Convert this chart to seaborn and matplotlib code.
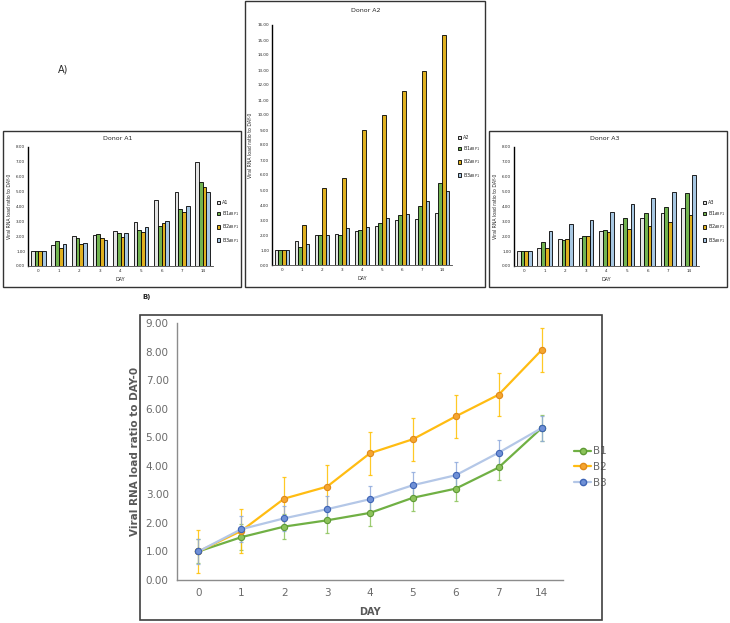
import numpy as np
import pandas as pd
import matplotlib
matplotlib.use('Agg')
import matplotlib.pyplot as plt
import seaborn as sns
from matplotlib.patches import Rectangle
from matplotlib.lines import Line2D

days = ['0', '1', '2', '3', '4', '5', '6', '7', '14']

# Donor A1 (bars)
a1_a = [1.0, 1.40, 2.00, 2.07, 2.37, 2.93, 4.42, 4.98, 6.97]
a1_b1 = [1.0, 1.65, 1.85, 2.13, 2.24, 2.45, 2.71, 3.86, 5.63]
a1_b2 = [1.0, 1.22, 1.50, 1.87, 1.96, 2.28, 2.91, 3.63, 5.34]
a1_b3 = [1.0, 1.50, 1.52, 1.74, 2.20, 2.61, 3.05, 4.04, 4.96]
# Donor A2
a2_a = [1.0, 1.62, 1.98, 2.04, 2.29, 2.58, 2.98, 3.09, 3.44]
a2_b1 = [1.0, 1.22, 1.98, 2.02, 2.31, 2.78, 3.31, 3.93, 5.47]
a2_b2 = [1.0, 2.64, 5.16, 5.82, 9.00, 10.00, 11.60, 12.95, 15.35]
a2_b3 = [1.0, 1.38, 1.98, 2.44, 2.53, 3.11, 3.40, 4.27, 4.93]
# Donor A3
a3_a = [1.0, 1.23, 1.80, 1.89, 2.34, 2.83, 3.24, 3.56, 3.93]
a3_b1 = [1.0, 1.61, 1.72, 2.05, 2.42, 3.22, 3.53, 3.98, 4.92]
a3_b2 = [1.0, 1.24, 1.82, 2.01, 2.28, 2.47, 2.72, 2.97, 3.44]
a3_b3 = [1.0, 2.37, 2.84, 3.12, 3.65, 4.14, 4.54, 4.98, 6.15]

# Panel B: mean ratio and error bars
b1_mean = [1.00, 1.50, 1.87, 2.09, 2.35, 2.88, 3.20, 3.94, 5.32]
b1_err = [0.42, 0.45, 0.44, 0.45, 0.45, 0.45, 0.43, 0.43, 0.45]
b2_mean = [1.00, 1.72, 2.85, 3.27, 4.44, 4.93, 5.73, 6.49, 8.05]
b2_err = [0.75, 0.77, 0.77, 0.75, 0.76, 0.76, 0.76, 0.76, 0.76]
b3_mean = [1.00, 1.78, 2.16, 2.48, 2.83, 3.32, 3.67, 4.46, 5.32]
b3_err = [0.45, 0.45, 0.43, 0.45, 0.45, 0.45, 0.45, 0.45, 0.44]

sub = '$_{\\mathrm{ABP1}}$'
bar_colors = ['#E4E4E4', '#6DC43F', '#FFC000', '#9DC8EC']

sns.set_style('white')
plt.rcParams['font.family'] = ['DejaVu Sans']

W, H = 730, 623
fig = plt.figure(figsize=(W / 100, H / 100), dpi=100)


def px_axes(l, t, r, b):
    return fig.add_axes([l / W, 1 - b / H, (r - l) / W, (b - t) / H])


def px_box(l, t, r, b, color='#333333', lw=1.0):
    fig.add_artist(Rectangle((l / W, 1 - b / H), (r - l) / W, (b - t) / H,
                             transform=fig.transFigure, fill=False,
                             edgecolor=color, linewidth=lw))


def bar_panel(rect, donor, series, ymax, step, leg_xy):
    ax = px_axes(*rect)
    labels = [donor] + ['B%d' % i + sub for i in (1, 2, 3)]
    df = pd.DataFrame({
        'day': days * 4,
        'ratio': [v for s in series for v in s],
        'group': np.repeat(labels, len(days)),
    })
    sns.barplot(data=df, x='day', y='ratio', hue='group', order=days,
                hue_order=labels, palette=bar_colors, edgecolor='black',
                linewidth=0.6, width=0.72, ax=ax)
    ax.set_ylim(0, ymax)
    ax.set_xlim(-0.5, len(days) - 0.5)
    ticks = np.arange(0, ymax + 0.01, step)
    ax.set_yticks(ticks)
    ax.set_yticklabels(['%.2f' % v for v in ticks])
    ax.tick_params(labelsize=3, length=0, pad=2)
    for s in ['top', 'right']:
        ax.spines[s].set_visible(False)
    ax.spines['left'].set_color('black')
    ax.spines['left'].set_linewidth(1.0)
    ax.spines['bottom'].set_color('#444444')
    ax.spines['bottom'].set_linewidth(0.6)
    ax.set_xlabel('DAY', fontsize=3.5, labelpad=3)
    ax.set_ylabel('Viral RNA load ratio to DAY-0', fontsize=3.3, labelpad=3)
    ax.legend(loc='upper left', bbox_to_anchor=(leg_xy[0] / W, 1 - leg_xy[1] / H),
              bbox_transform=fig.transFigure, fontsize=3.5, frameon=False,
              handlelength=0.7, handleheight=0.7, handletextpad=0.3,
              labelspacing=0.9, borderaxespad=0)
    return ax


# Donor panels
bar_panel((28, 147, 213, 266), 'A1', [a1_a, a1_b1, a1_b2, a1_b3], 8, 1, (215, 198))
fig.text(118 / W, 1 - 138 / H, 'Donor A1', fontsize=4.5, ha='center', va='center')
bar_panel((272, 25, 452, 265), 'A2', [a2_a, a2_b1, a2_b2, a2_b3], 16, 1, (456, 133))
fig.text(366 / W, 1 - 10 / H, 'Donor A2', fontsize=4.5, ha='center', va='center')
bar_panel((514, 147, 699, 266), 'A3', [a3_a, a3_b1, a3_b2, a3_b3], 8, 1, (701, 198))
fig.text(605 / W, 1 - 138 / H, 'Donor A3', fontsize=4.5, ha='center', va='center')

px_box(3, 131, 241, 287)
px_box(245, 1, 485, 287)
px_box(489, 131, 727, 287)
fig.text(63 / W, 1 - 70 / H, 'A)', fontsize=7, ha='center', va='center')
fig.text(147 / W, 1 - 297 / H, 'B)', fontsize=5, fontweight='bold', ha='center', va='center')

# Panel B: mean curves
axb = px_axes(177, 323, 563, 580)
pos = np.arange(len(days))
groups = ['B1', 'B2', 'B3']
line_df = pd.DataFrame({
    'x': np.tile(pos, 3),
    'ratio': b1_mean + b2_mean + b3_mean,
    'group': np.repeat(groups, len(days)),
})
line_colors = {'B1': '#70B044', 'B2': '#FFBC12', 'B3': '#B4C7E7'}
marker_face = {'B1': '#8CC35A', 'B2': '#F5A530', 'B3': '#6F90D6'}
marker_edge = {'B1': '#5E9A35', 'B2': '#E08A18', 'B3': '#3E64B5'}
err_colors = {'B1': '#8CC35A', 'B2': '#FFC000', 'B3': '#8FAADC'}

sns.lineplot(data=line_df, x='x', y='ratio', hue='group', hue_order=groups,
             palette=line_colors, linewidth=1.6, marker='o', markersize=4.5,
             legend=False, ax=axb, zorder=3)
for line, g in zip(list(axb.lines), groups):
    line.set_markerfacecolor(marker_face[g])
    line.set_markeredgecolor(marker_edge[g])
    line.set_markeredgewidth(0.8)

for g, m, e in [('B1', b1_mean, b1_err), ('B2', b2_mean, b2_err), ('B3', b3_mean, b3_err)]:
    axb.errorbar(pos, m, yerr=e, fmt='none', ecolor=err_colors[g],
                 elinewidth=0.9, capsize=1.5, capthick=0.9, alpha=0.85, zorder=2)

axb.set_xlim(-0.5, len(days) - 0.5)
axb.set_ylim(0, 9)
axb.set_xticks(pos)
axb.set_xticklabels(days)
yt = np.arange(0, 9.01, 1)
axb.set_yticks(yt)
axb.set_yticklabels(['%.2f' % v for v in yt])
axb.tick_params(labelsize=7.5, colors='#6A6A6A', length=0, pad=6)
for s in ['top', 'right']:
    axb.spines[s].set_visible(False)
for s in ['left', 'bottom']:
    axb.spines[s].set_color('#8C8C8C')
    axb.spines[s].set_linewidth(1.0)
axb.set_xlabel('DAY', fontsize=7, fontweight='bold', color='#595959', labelpad=6)
axb.set_ylabel('Viral RNA load ratio to DAY-0', fontsize=7.5, fontweight='bold',
               color='#595959', labelpad=4)

handles = [Line2D([0], [0], color=line_colors[g], lw=1.6, marker='o', markersize=4.5,
                  markerfacecolor=marker_face[g], markeredgecolor=marker_edge[g])
           for g in groups]
leg = axb.legend(handles, groups, loc='center left',
                 bbox_to_anchor=(570 / W, 1 - 467 / H), bbox_transform=fig.transFigure,
                 frameon=False, fontsize=7.5, handlelength=1.6, handletextpad=0.2,
                 labelspacing=0.55, borderaxespad=0)
for t in leg.get_texts():
    t.set_color('#6A6A6A')

px_box(140, 315, 602, 620, color='#404040', lw=1.2)

fig.savefig('out.png', dpi=100)
